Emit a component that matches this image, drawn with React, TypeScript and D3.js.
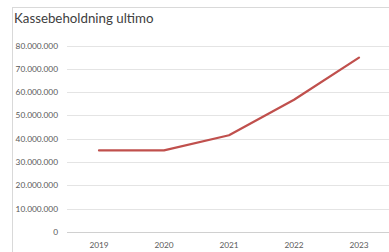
import React, { useEffect, useRef } from 'react';
import * as d3 from 'd3';

const years = ['2019', '2020', '2021', '2022', '2023'];
const values = [35000000, 35000000, 41500000, 56700000, 74800000];
const ticks = [0, 10000000, 20000000, 30000000, 40000000, 50000000, 60000000, 70000000, 80000000];

const width = 389;
const height = 252;

export default function App() {
    const svgRef = useRef<SVGSVGElement>(null);

    useEffect(() => {
        if (!svgRef.current) return;
        const svg = d3.select(svgRef.current);
        svg.selectAll('*').remove();

        // chart frame
        svg.append('rect')
            .attr('x', 12.5)
            .attr('y', 7.5)
            .attr('width', 400)
            .attr('height', 260)
            .attr('fill', '#fff')
            .attr('stroke', '#d9d9d9');

        svg.append('text')
            .attr('x', 14)
            .attr('y', 23)
            .attr('fill', '#404040')
            .style('font', '13.3px Lato, sans-serif')
            .text('Kassebeholdning ultimo');

        const x = d3.scaleBand<string>().domain(years).range([66.5, 391.5]);
        const y = d3.scaleLinear().domain([0, 80000000]).range([232, 45.5]);

        const fmt = (v: number) => d3.format(',')(v).replace(/,/g, '.');

        const grid = svg.append('g');
        grid.selectAll('line')
            .data(ticks)
            .join('line')
            .attr('x1', 67)
            .attr('x2', width)
            .attr('y1', (d) => Math.round(y(d)) + 0.5)
            .attr('y2', (d) => Math.round(y(d)) + 0.5)
            .attr('stroke', (d) => d === 0 ? '#d0d0d0' : '#e4e4e4')
            .attr('stroke-width', 1);

        svg.append('g')
            .selectAll('text')
            .data(ticks)
            .join('text')
            .attr('x', 58)
            .attr('y', (d) => y(d) + 3)
            .attr('text-anchor', 'end')
            .attr('fill', '#595959')
            .style('font', '8.3px Lato, sans-serif')
            .text((d) => fmt(d));

        svg.append('g')
            .selectAll('text')
            .data(years)
            .join('text')
            .attr('x', (d) => (x(d) || 0) + x.bandwidth() / 2)
            .attr('y', 248)
            .attr('text-anchor', 'middle')
            .attr('fill', '#595959')
            .style('font', '8.3px Lato, sans-serif')
            .text((d) => d);

        const line = d3.line<number>()
            .x((d, i) => (x(years[i]) || 0) + x.bandwidth() / 2)
            .y((d) => y(d));

        svg.append('path')
            .datum(values)
            .attr('d', line)
            .attr('fill', 'none')
            .attr('stroke', '#c0504d')
            .attr('stroke-width', 2.25)
            .attr('stroke-linejoin', 'round')
            .attr('stroke-linecap', 'round');
    }, []);

    return (
        <div style={{ position: 'absolute', left: 0, top: 0 }}>
            <svg ref={svgRef} width={width} height={height} style={{ display: 'block' }} />
        </div>
    );
}
